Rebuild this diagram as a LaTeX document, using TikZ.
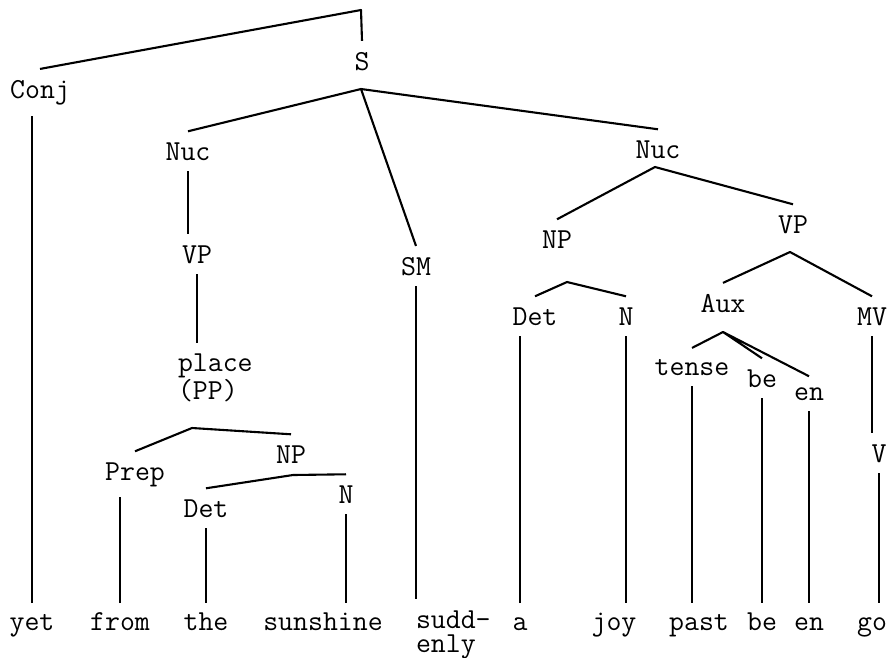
\documentclass[tikz,border=0pt]{standalone}
\usepackage{fontspec}
\begin{document}
\begin{tikzpicture}[x=1pt,y=-1pt,line width=2.1pt,line join=round,
  every node/.style={font=\fontsize{29}{24}\selectfont\ttfamily,
    inner sep=0pt,outer sep=11pt,anchor=base},
  word/.style={text height=16pt}]
\useasboundingbox (0,0) rectangle (888,657);

\coordinate (top) at (361,10);
\coordinate (aS) at (361,89);
\coordinate (aNucR) at (655,167);
\coordinate (aNPr) at (567,282);
\coordinate (aVPr) at (790,252);
\coordinate (aAux) at (723,332);
\coordinate (aPlace) at (192,428);
\coordinate (aNPl) at (293,475);

\draw
  (40,98) node (Conj) {Conj}
  (362,70) node (S) {S}
  (188,160) node (NucL) {Nuc}
  (416,275) node (SM) {SM}
  (658,158) node (NucR) {Nuc}
  (197,263) node (VPl) {VP}
  (167,399) node[anchor=base west,align=left] (place) {place\\(PP)}
  (135,480) node (Prep) {Prep}
  (291,463) node (NPl) {NP}
  (206,517) node (DetL) {Det}
  (346,503) node (NL) {N}
  (557,248) node (NPr) {NP}
  (793,233) node (VPr) {VP}
  (535,325) node (DetR) {Det}
  (626,325) node (NR) {N}
  (723,312) node (Aux) {Aux}
  (872,325) node (MV) {MV}
  (692,375) node (tense) {tense}
  (762,387) node (beA) {be}
  (809,400) node (enA) {en}
  (879,462) node (V) {V};

\draw
  (32,630) node[word] (yet) {yet}
  (120,630) node[word] (from) {from}
  (206,630) node[word] (the) {the}
  (323,630) node[word] (sunshine) {sunshine}
  (405,652) node[anchor=base west,align=left] (sudd) {sudd-\\enly}
  (520,630) node[word] (a) {a}
  (614,630) node[word] (joy) {joy}
  (699,630) node[word] (past) {past}
  (762,630) node[word] (be) {be}
  (809,630) node[word] (en) {en}
  (872,630) node[word] (go) {go};

\draw (Conj.north) -- (top) -- (S.north);
\draw (NucL.north) -- (aS) -- (NucR.north) (aS) -- (SM.north);
\draw (NPr.north) -- (aNucR) -- (VPr.north);
\draw (DetR.north) -- (aNPr) -- (NR.north);
\draw (Aux.north) -- (aVPr) -- (MV.north);
\draw (tense.north) -- (aAux) -- (beA.north) (aAux) -- (enA.north);
\draw (Prep.north) -- (aPlace) -- (NPl.north);
\draw (DetL.north) -- (aNPl) -- (NL.north);

\draw (yet.north) -- (yet.north |- Conj.south);
\draw (NucL.south) -- (NucL.south |- VPl.north);
\draw (VPl.south) -- (VPl.south |- place.north);
\draw (from.north) -- (from.north |- Prep.south);
\draw (DetL.south) -- (the.north);
\draw (NL.south) -- (NL.south |- sunshine.north);
\draw (SM.south) -- (SM.south |- sudd.north);
\draw (a.north) -- (a.north |- DetR.south);
\draw (NR.south) -- (NR.south |- joy.north);
\draw (tense.south) -- (tense.south |- past.north);
\draw (beA.south) -- (be.north);
\draw (enA.south) -- (en.north);
\draw (MV.south) -- (MV.south |- V.north);
\draw (V.south) -- (V.south |- go.north);
\end{tikzpicture}
\end{document}
